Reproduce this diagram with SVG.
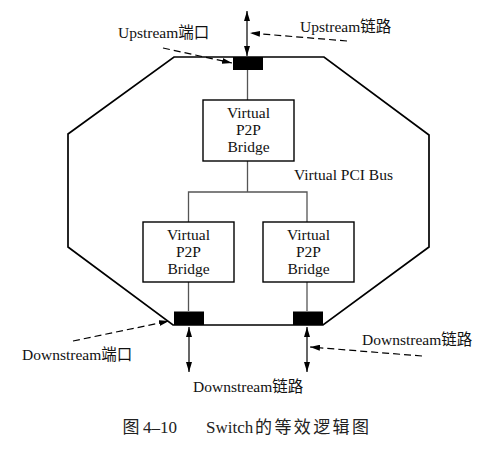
<svg xmlns="http://www.w3.org/2000/svg" width="484" height="453" viewBox="0 0 484 453">
<defs>
<marker id="ah" viewBox="0 0 10 6" refX="10" refY="3" markerWidth="10" markerHeight="6" markerUnits="userSpaceOnUse" orient="auto-start-reverse">
<path d="M0,0 L10,3 L0,6 Z" fill="#000"/>
</marker>
</defs>
<style>
text{font-family:'Liberation Serif','Times New Roman','Noto Sans CJK SC',serif}
.t{font-size:15.5px;fill:#111}
.c{text-anchor:middle}
.box{fill:#fff;stroke:#000;stroke-width:1.4}
.port{fill:#000}
.wire{stroke:#555;stroke-width:1.3;fill:none}
.dash{stroke:#000;stroke-width:1.2;stroke-dasharray:7,4;fill:none}
.arr{stroke:#000;stroke-width:1.2;fill:none}
.cap{font-size:17px;fill:#222}
</style>
<rect width="484" height="453" fill="#fff"/>
<g id="switch">
<polygon points="174,57 324,57 429,135 429,247 323,325 173,325 68,247 68,134" fill="none" stroke="#000" stroke-width="1.7"/>
</g>
<g id="connectors">
<line class="wire" x1="247.5" y1="70" x2="247.5" y2="100"/>
<polyline class="wire" points="247.5,161 247.5,192"/>
<polyline class="wire" points="188.5,222 188.5,192 307,192 307,222"/>
<line class="wire" x1="188.5" y1="282" x2="188.5" y2="311"/>
<line class="wire" x1="307" y1="282" x2="307" y2="311"/>
<line class="arr" x1="247" y1="11" x2="247" y2="56" marker-start="url(#ah)" marker-end="url(#ah)"/>
<line class="arr" x1="189" y1="327" x2="189" y2="372" marker-start="url(#ah)" marker-end="url(#ah)"/>
<line class="arr" x1="307" y1="327" x2="307" y2="372" marker-start="url(#ah)" marker-end="url(#ah)"/>
<line class="dash" x1="347" y1="41" x2="250" y2="33" marker-end="url(#ah)"/>
<line class="dash" x1="163" y1="48" x2="232" y2="63" marker-end="url(#ah)"/>
<line class="dash" x1="73" y1="341" x2="169" y2="321" marker-end="url(#ah)"/>
<line class="dash" x1="422" y1="356" x2="310" y2="347" marker-end="url(#ah)"/>
</g>
<g id="upstream-port"><rect class="port" x="233" y="57" width="30" height="13"/></g>
<g id="downstream-port-left"><rect class="port" x="174" y="311.5" width="30" height="13.5"/></g>
<g id="downstream-port-right"><rect class="port" x="293" y="311.5" width="30" height="13.5"/></g>
<g id="bridge-top">
<rect class="box" x="203" y="100" width="91" height="61"/>
<text class="t c" x="248.5" y="118">Virtual</text>
<text class="t c" x="248.5" y="135">P2P</text>
<text class="t c" x="248.5" y="152">Bridge</text>
</g>
<g id="bridge-left">
<rect class="box" x="143" y="222" width="91" height="60"/>
<text class="t c" x="188.5" y="240">Virtual</text>
<text class="t c" x="188.5" y="257">P2P</text>
<text class="t c" x="188.5" y="274">Bridge</text>
</g>
<g id="bridge-right">
<rect class="box" x="263" y="222" width="91" height="60"/>
<text class="t c" x="308.5" y="240">Virtual</text>
<text class="t c" x="308.5" y="257">P2P</text>
<text class="t c" x="308.5" y="274">Bridge</text>
</g>
<g id="labels">
<text class="t" x="294" y="180">Virtual PCI Bus</text>
<text class="t" x="118" y="38">Upstream端口</text>
<text class="t" x="300" y="32">Upstream链路</text>
<text class="t" x="22" y="360">Downstream端口</text>
<text class="t" x="362" y="345">Downstream链路</text>
<text class="t" x="193" y="392">Downstream链路</text>
</g>
<g id="caption">
<text class="cap" x="122.5" y="433">图</text>
<text class="cap" x="143" y="433">4–10</text>
<text class="cap" x="206" y="433">Switch</text>
<text class="cap" x="255" y="433" textLength="114" lengthAdjust="spacing">的等效逻辑图</text>
</g>
</svg>
